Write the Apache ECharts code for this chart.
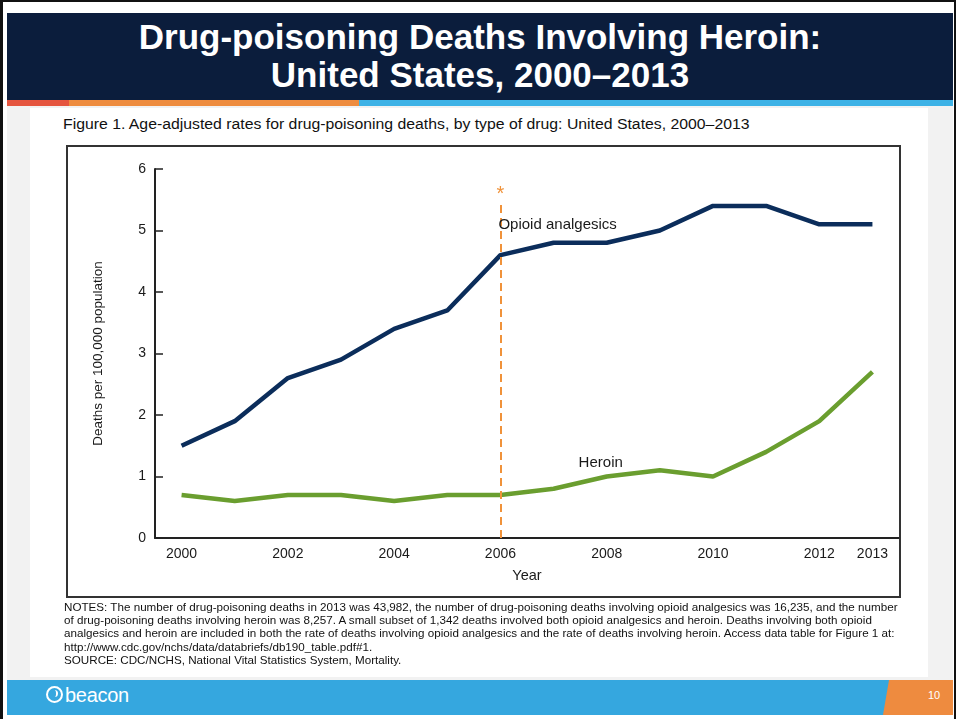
<!DOCTYPE html>
<html>
<head>
<meta charset="utf-8">
<script src="https://cdn.jsdelivr.net/npm/echarts@6/dist/echarts.min.js"></script>
<style>
  html, body { margin: 0; padding: 0; background: #fff; }
  body { width: 960px; height: 719px; position: relative; overflow: hidden; font-family: "Liberation Sans", Arial, sans-serif; }
  .frame { position: absolute; left: 0; top: 0; width: 956px; height: 719px; border-left: 3px solid #111; border-top: 2px solid #111; border-right: 2px solid #111; box-sizing: border-box; }
  .title { position: absolute; left: 7px; top: 13px; width: 946px; height: 87px; background: #0b1d3c; color: #fff; text-align: center; font-weight: bold; font-size: 35px; line-height: 38px; padding-top: 5px; box-sizing: border-box; }
  .stripe { position: absolute; top: 100px; height: 6px; }
  .panel { position: absolute; left: 7px; top: 106px; width: 946px; height: 574px; background: #f2f2f2; }
  .inner { position: absolute; left: 30px; top: 108px; width: 898px; height: 569px; background: #fff; }
  .caption { position: absolute; left: 63px; top: 116px; font-size: 14px; color: #111; white-space: nowrap; transform: scaleX(1.128); transform-origin: 0 0; }
  .box { position: absolute; left: 66px; top: 145px; width: 835px; height: 453px; border: 2px solid #333; box-sizing: border-box; }
  #chart { position: absolute; left: 66px; top: 145px; width: 835px; height: 453px; }
  .notes { position: absolute; left: 64px; top: 601px; font-size: 10.2px; line-height: 13.2px; color: #111; white-space: nowrap; transform: scaleX(1.143); transform-origin: 0 0; }
  .footer { position: absolute; left: 7px; top: 680px; width: 946px; height: 35px; background: #35a7df; }
  .orange { position: absolute; left: 883px; top: 680px; width: 70px; height: 35px; background: #ee8b3f; clip-path: polygon(6px 0, 70px 0, 70px 35px, 0 35px); }
  .page { position: absolute; left: 928px; top: 689px; color: #fff; font-size: 11px; }
  .logo { position: absolute; left: 46px; top: 684px; color: #fff; font-size: 20px; letter-spacing: -0.3px; }
  .logo .mark { display: inline-block; width: 13px; height: 13px; border: 2px solid #fff; border-radius: 50%; vertical-align: -1px; margin-right: 2px; position: relative; }
  .logo .mark::after { content: ""; position: absolute; left: 4px; top: 2px; width: 4px; height: 7px; border-right: 2px solid #fff; border-radius: 0 5px 5px 0; }
</style>
</head>
<body>
<div class="frame"></div>
<div class="title">Drug-poisoning Deaths Involving Heroin:<br>United States, 2000–2013</div>
<div class="stripe" style="left:7px;width:62px;background:#e5553f;"></div>
<div class="stripe" style="left:69px;width:290px;background:#ee8c3f;"></div>
<div class="stripe" style="left:359px;width:594px;background:#3db2e6;"></div>
<div class="panel"></div>
<div class="inner"></div>
<div class="caption">Figure 1. Age-adjusted rates for drug-poisoning deaths, by type of drug: United States, 2000–2013</div>
<div id="chart"></div>
<div class="box"></div>
<div class="notes">NOTES: The number of drug-poisoning deaths in 2013 was 43,982, the number of drug-poisoning deaths involving opioid analgesics was 16,235, and the number<br>of drug-poisoning deaths involving heroin was 8,257. A small subset of 1,342 deaths involved both opioid analgesics and heroin. Deaths involving both opioid<br>analgesics and heroin are included in both the rate of deaths involving opioid analgesics and the rate of deaths involving heroin. Access data table for Figure 1 at:<br>http://www.cdc.gov/nchs/data/databriefs/db190_table.pdf#1.<br>SOURCE: CDC/NCHS, National Vital Statistics System, Mortality.</div>
<div class="footer"></div>
<div class="orange"></div>
<div class="page">10</div>
<div class="logo"><span class="mark"></span>beacon</div>

<script>
// Years on the x axis and the labels shown under it
const years = ['2000','2001','2002','2003','2004','2005','2006','2007','2008','2009','2010','2011','2012','2013'];
const labeledYears = ['2000','2002','2004','2006','2008','2010','2012','2013'];

// Age-adjusted death rates per 100,000 population
const opioidAnalgesics = [1.5, 1.9, 2.6, 2.9, 3.4, 3.7, 4.6, 4.8, 4.8, 5.0, 5.4, 5.4, 5.1, 5.1];
const heroin = [0.7, 0.6, 0.7, 0.7, 0.6, 0.7, 0.7, 0.8, 1.0, 1.1, 1.0, 1.4, 1.9, 2.7];

// Reference year marked with the dashed line
const markedYear = '2006';

const chart = echarts.init(document.getElementById('chart'));
const axisColor = '#222';
const textColor = '#1a1a1a';
const font = '"Liberation Sans", Arial, sans-serif';

chart.setOption({
  animation: false,
  grid: { left: 89, right: 2, top: 24, bottom: 60 },
  xAxis: {
    type: 'category',
    data: years,
    boundaryGap: true,
    name: 'Year',
    nameLocation: 'middle',
    nameGap: 30,
    nameTextStyle: { color: textColor, fontSize: 14.5, fontFamily: font },
    axisLine: { lineStyle: { color: axisColor, width: 2 } },
    axisTick: { inside: true, alignWithLabel: true, interval: 0, length: 8, lineStyle: { color: axisColor, width: 1.5 } },
    axisLabel: {
      interval: (i, v) => labeledYears.includes(v),
      color: textColor, fontSize: 14, fontFamily: font, margin: 9
    }
  },
  yAxis: {
    type: 'value',
    min: 0, max: 6, interval: 1,
    name: 'Deaths per 100,000 population',
    nameLocation: 'middle',
    nameGap: 50,
    nameTextStyle: { color: textColor, fontSize: 13.5, fontFamily: font },
    axisLine: { show: true, lineStyle: { color: axisColor, width: 2 } },
    axisTick: { show: true, inside: true, length: 8, lineStyle: { color: axisColor, width: 1.5 } },
    axisLabel: { color: textColor, fontSize: 14, fontFamily: font, margin: 9 },
    splitLine: { show: false }
  },
  series: [
    {
      name: 'Opioid analgesics',
      type: 'line',
      data: opioidAnalgesics,
      symbol: 'none',
      lineStyle: { color: '#0b2d5b', width: 4.5 },
      z: 3,
      markPoint: {
        symbol: 'circle', symbolSize: 0, silent: true,
        data: [{ coord: [markedYear, 5.09] }],
        label: { show: true, formatter: 'Opioid analgesics', position: 'right', distance: -2, color: textColor, fontSize: 15, fontFamily: font }
      },
      markLine: {
        symbol: 'none', silent: true,
        lineStyle: { color: '#f0923a', type: [8, 5], width: 2 },
        label: { show: true, position: 'end', formatter: '*', color: '#f0923a', fontSize: 20, distance: -2, fontFamily: font },
        data: [[{ coord: [markedYear, 0] }, { coord: [markedYear, 5.45] }]]
      }
    },
    {
      name: 'Heroin',
      type: 'line',
      data: heroin,
      symbol: 'none',
      lineStyle: { color: '#6a9e2f', width: 4.5 },
      z: 4,
      markPoint: {
        symbol: 'circle', symbolSize: 0, silent: true,
        data: [{ coord: ['2008', 1.22] }],
        label: { show: true, formatter: 'Heroin', position: 'inside', offset: [-6, 0], color: textColor, fontSize: 15, fontFamily: font }
      }
    }
  ]
});
</script>
</body>
</html>
